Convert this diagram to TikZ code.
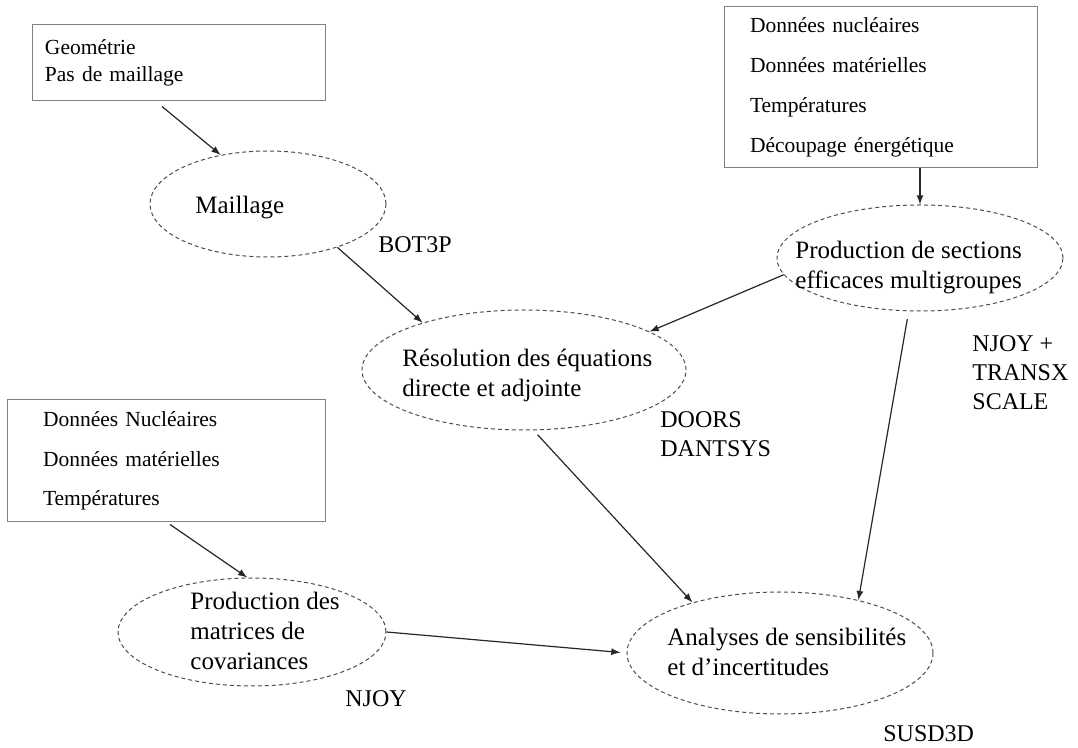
\documentclass[tikz,border=0pt]{standalone}
\usepackage{fontspec}
\setmainfont{Liberation Serif}
\usetikzlibrary{arrows, shapes.geometric}

\begin{document}
\begin{tikzpicture}[x=0.5pt, y=-0.5pt, >=latex]
      \useasboundingbox (0,0) rectangle (1078,748);
      \tikzstyle{Boite} = [draw=black!50, line width=0.5pt, rectangle, align=left,
                           font=\fontsize{10.75}{20}\selectfont]
      \tikzstyle{Bulle} = [draw=black!70, line width=0.5pt, ellipse, inner sep=0pt,
                           dash pattern=on 2pt off 1.5pt]
      \tikzstyle{Texte} = [anchor=west, inner sep=0pt, align=left,
                           font=\fontsize{12.5}{15}\selectfont]
      \tikzstyle{Code} = [anchor=west, inner sep=0pt, align=left,
                          font=\fontsize{12}{14.5}\selectfont]
      \tikzstyle{Fleche} = [->, line width=0.6pt, black!85]

      % les donnees d'entree
      \node[Boite, minimum height=38pt, inner xsep=6.5pt, text width=133.5pt,
            font=\fontsize{10.75}{13.5}\selectfont] (geom) at (178.5,63)
            {Geométrie\\Pas de maillage};
      \node[Boite, minimum height=80.5pt, inner xsep=13pt, text width=130.5pt] (donnees) at (880.5,87.5)
            {Données nucléaires\\Données matérielles\\Températures\\Découpage énergétique};
      \node[Boite, minimum height=61pt, inner xsep=18pt, text width=123pt,
            font=\fontsize{10.75}{19.75}\selectfont] (donneescov) at (166,461)
            {Données Nucléaires\\Données matérielles\\Températures};

      % les etapes de calcul
      \node[Bulle, minimum width=236pt/2, minimum height=106pt/2] (maillage) at (268,204) {};
      \node[Bulle, minimum width=286pt/2, minimum height=106pt/2] (sections) at (920,258) {};
      \node[Bulle, minimum width=324pt/2, minimum height=120pt/2] (resol) at (524,370) {};
      \node[Bulle, minimum width=268pt/2, minimum height=108pt/2] (cov) at (252,632) {};
      \node[Bulle, minimum width=306pt/2, minimum height=122pt/2] (analyses) at (780,653) {};

      \node[Texte] (tmaillage) at (195,208) {Maillage};
      \node[Texte] (tsections) at (795,268) {Production de sections\\efficaces multigroupes};
      \node[Texte] (tresol) at (402,375) {Résolution des équations\\directe et adjointe};
      \node[Texte] (tcov) at (190,631) {Production des\\matrices de\\covariances};
      \node[Texte] (tanalyses) at (667,652) {Analyses de sensibilités\\et d’incertitudes};

      % les codes
      \node[Code] (bot) at (378,245) {BOT3P};
      \node[Code] (njoytr) at (972,373) {NJOY +\\TRANSX\\SCALE};
      \node[Code] (doors) at (660,434) {DOORS\\DANTSYS};
      \node[Code] (njoy) at (345,699) {NJOY};
      \node[Code] (susd) at (883,734) {SUSD3D};

      % les liens
      \draw[Fleche] ([xshift=-8.25pt, yshift=-2.5pt]geom.south) -- (maillage.134);
      \draw[Fleche] (maillage.-32) -- (resol.155);
      \draw[Fleche] (donnees.south -| sections.north) -- (sections.north);
      \draw[Fleche] (sections.187) -- (resol.17);
      \draw[Fleche, shorten <=4pt] (sections.-102) -- (analyses.34);
      \draw[Fleche, shorten <=3pt] (resol.-81) -- (analyses.150);
      \draw[Fleche] ([xshift=2pt, yshift=-1pt]donneescov.south) -- (cov.95);
      \draw[Fleche, shorten >=3pt] (cov.east) -- (analyses.west);
\end{tikzpicture}
\end{document}
